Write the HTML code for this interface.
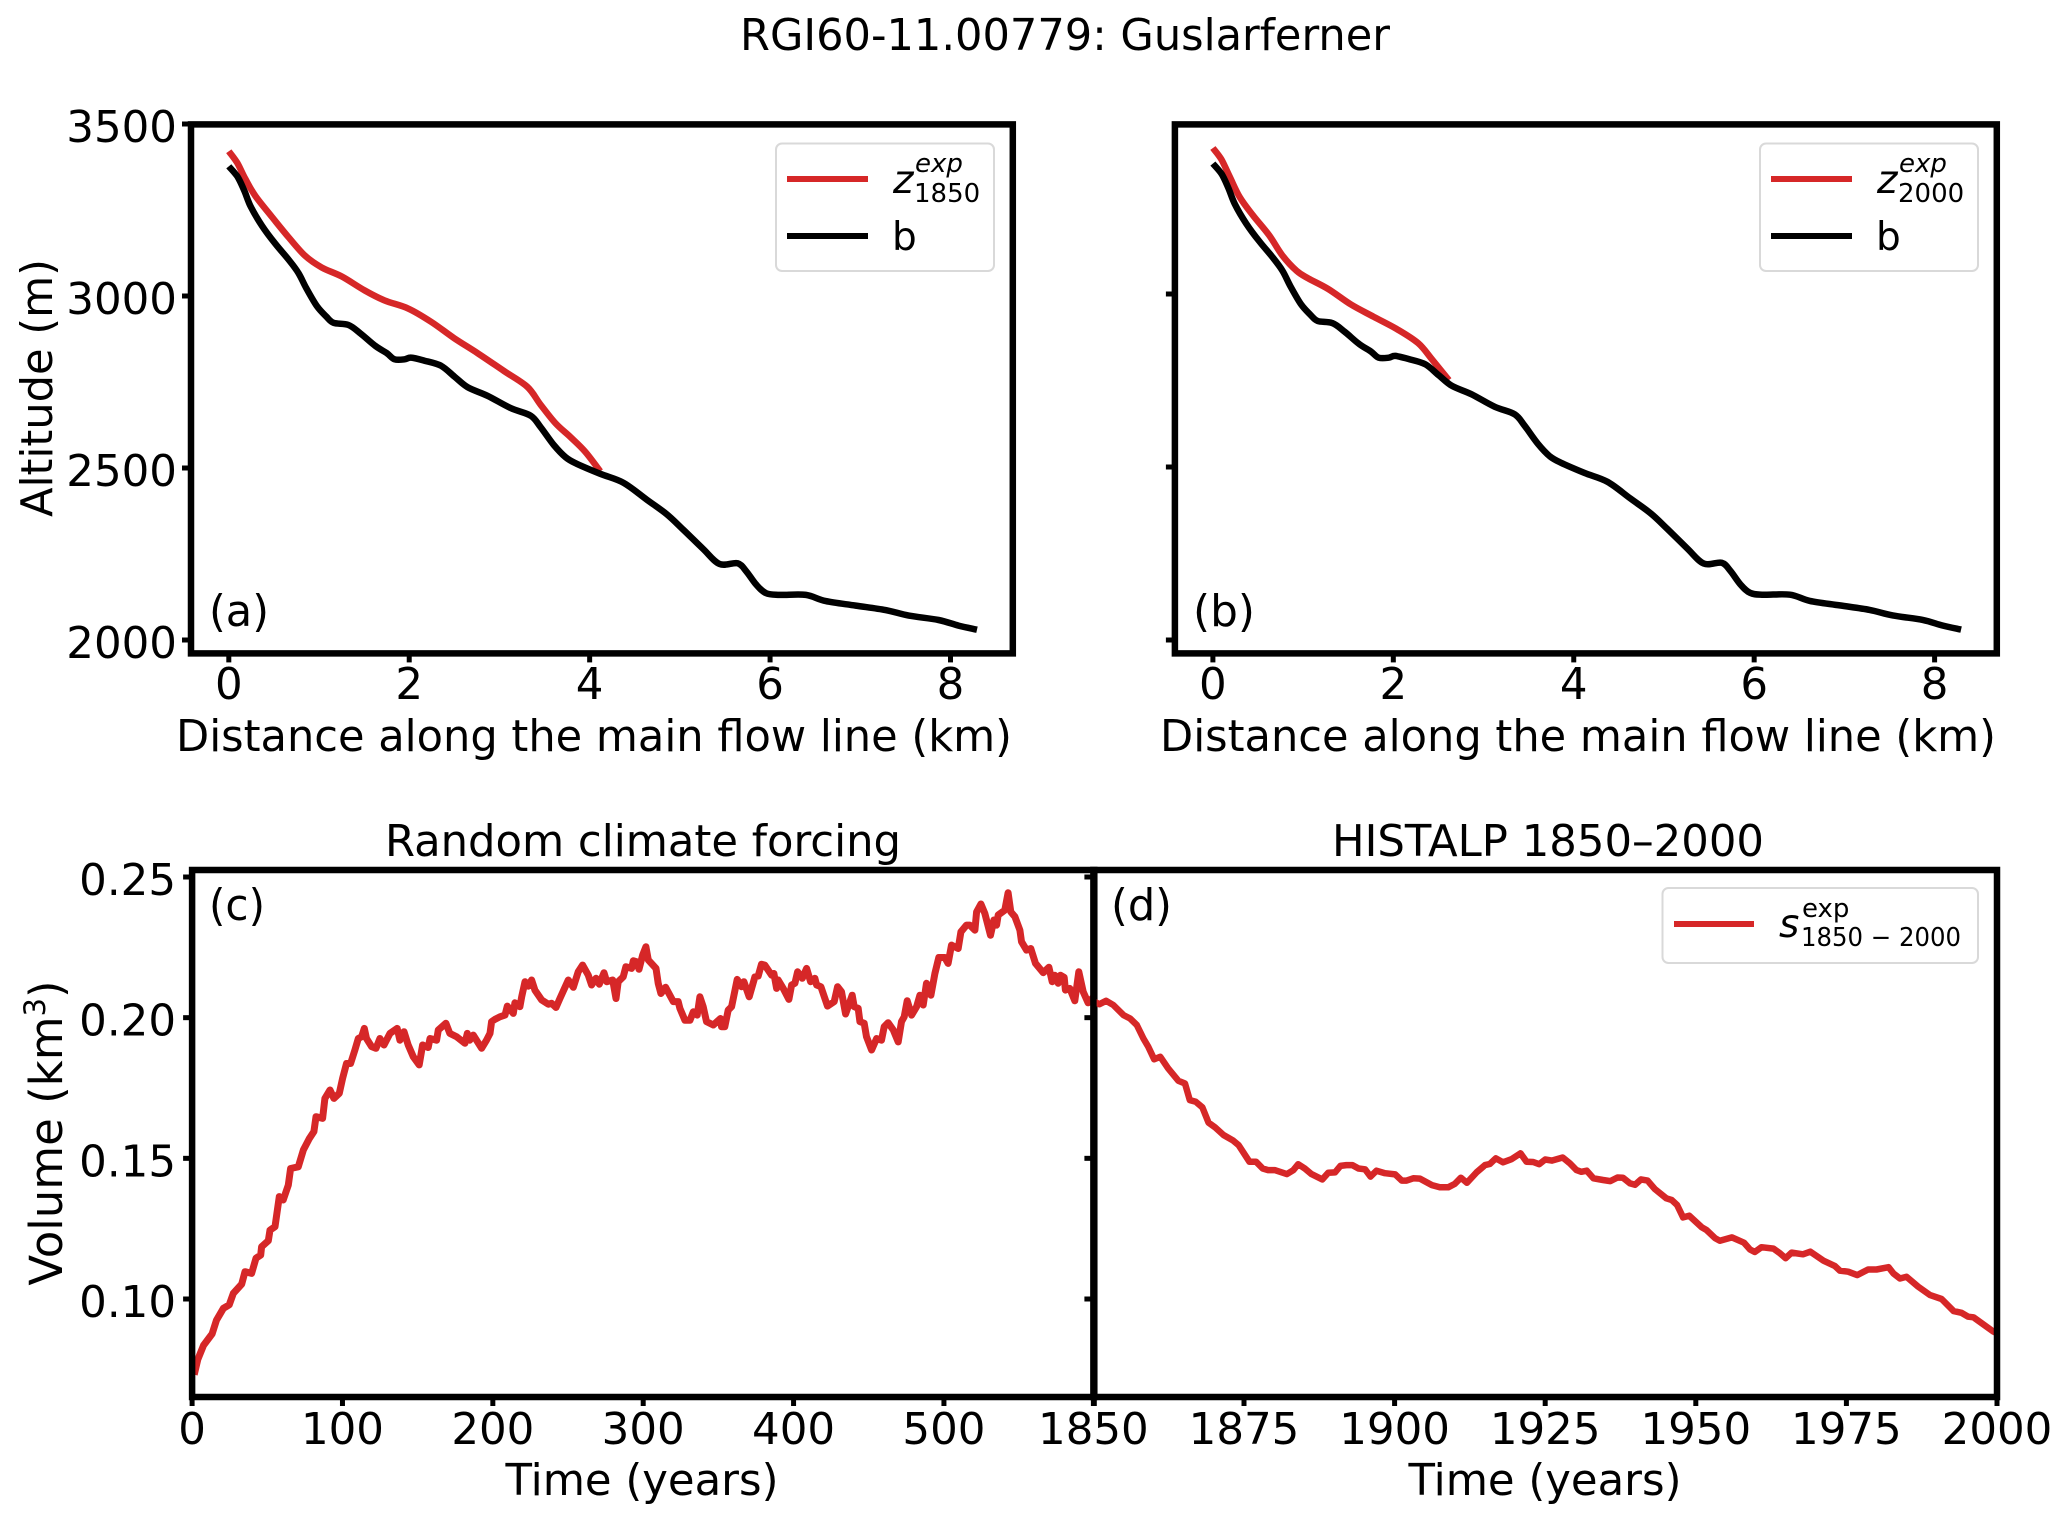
<!DOCTYPE html>
<html lang="en">
<head>
<meta charset="utf-8">
<title>RGI60-11.00779: Guslarferner</title>
<style>
html,body{margin:0;padding:0;background:#fff;}
svg{display:block;}
text{font-family:"DejaVu Sans","Liberation Sans",sans-serif;fill:#000;}
.lbl{font-size:44px;}
.tick{font-size:43.5px;}
.leg{font-size:39px;}
.sub{font-size:26px;}
</style>
</head>
<body>
<svg id="figure" xmlns="http://www.w3.org/2000/svg" width="2067" height="1522" viewBox="0 0 2067 1522">
<rect x="0" y="0" width="2067" height="1522" fill="#fff"/>
<text class="lbl" x="1065" y="50" text-anchor="middle" textLength="650" lengthAdjust="spacingAndGlyphs">RGI60-11.00779: Guslarferner</text>
<g id="layer-lines"></g>
<text class="lbl" transform="translate(52,388) rotate(-90)" text-anchor="middle" textLength="258" lengthAdjust="spacingAndGlyphs">Altitude (m)</text>
<text class="lbl" x="594" y="751" text-anchor="middle" textLength="836" lengthAdjust="spacingAndGlyphs">Distance along the main flow line (km)</text>
<text class="lbl" x="1578" y="751" text-anchor="middle" textLength="836" lengthAdjust="spacingAndGlyphs">Distance along the main flow line (km)</text>
<text class="lbl" x="209" y="626" textLength="60" lengthAdjust="spacingAndGlyphs">(a)</text>
<text class="lbl" x="1193" y="626" textLength="62" lengthAdjust="spacingAndGlyphs">(b)</text>
<text class="lbl" x="209" y="920" textLength="56" lengthAdjust="spacingAndGlyphs">(c)</text>
<text class="lbl" x="1111" y="920" textLength="61" lengthAdjust="spacingAndGlyphs">(d)</text>
<text class="lbl" x="643" y="856" text-anchor="middle" textLength="516" lengthAdjust="spacingAndGlyphs">Random climate forcing</text>
<text class="lbl" x="1548" y="856" text-anchor="middle" textLength="432" lengthAdjust="spacingAndGlyphs">HISTALP 1850–2000</text>
<text class="lbl" x="642" y="1495" text-anchor="middle" textLength="273" lengthAdjust="spacingAndGlyphs">Time (years)</text>
<text class="lbl" x="1545" y="1495" text-anchor="middle" textLength="273" lengthAdjust="spacingAndGlyphs">Time (years)</text>
<text font-size="45" transform="translate(62,1133) rotate(-90)" text-anchor="middle">Volume (km<tspan font-size="29" dy="-17">3</tspan><tspan dy="17">)</tspan></text>

<g>
<rect x="776" y="143.5" width="218" height="127.5" rx="6" fill="#fff" stroke="#d9d9d9" stroke-width="2"/>
<line x1="787" x2="868" y1="179" y2="179" stroke="#d62728" stroke-width="6"/>
<line x1="787" x2="868" y1="236" y2="236" stroke="#000" stroke-width="6"/>
<text class="leg" x="893" y="193" font-style="italic">z</text>
<text class="sub" x="915" y="172" font-style="italic">exp</text>
<text class="sub" x="914" y="202">1850</text>
<text class="leg" x="892" y="250">b</text>
</g>
<g>
<rect x="1760" y="143.5" width="218" height="127.5" rx="6" fill="#fff" stroke="#d9d9d9" stroke-width="2"/>
<line x1="1771" x2="1852" y1="179" y2="179" stroke="#d62728" stroke-width="6"/>
<line x1="1771" x2="1852" y1="236" y2="236" stroke="#000" stroke-width="6"/>
<text class="leg" x="1877" y="193" font-style="italic">z</text>
<text class="sub" x="1899" y="172" font-style="italic">exp</text>
<text class="sub" x="1898" y="202">2000</text>
<text class="leg" x="1876" y="250">b</text>
</g>
<g>
<rect x="1662.5" y="888" width="315.5" height="75" rx="6" fill="#fff" stroke="#d9d9d9" stroke-width="2"/>
<line x1="1674" x2="1754" y1="924" y2="924" stroke="#d62728" stroke-width="6"/>
<text class="leg" x="1779" y="937" font-style="italic">s</text>
<text class="sub" x="1802" y="917">exp</text>
<text class="sub" x="1801" y="946" textLength="160" lengthAdjust="spacingAndGlyphs">1850 − 2000</text>
</g>
</svg>
<script>
var bedKm = [0,.096,.169,.243,.368,.515,.662,.772,.86,.978,1.081,1.162,1.324,1.456,1.618,1.75,1.838,1.949,2.022,2.169,2.353,2.5,2.647,2.868,3.125,3.346,3.456,3.603,3.735,3.86,4.118,4.375,4.632,4.853,5.037,5.257,5.441,5.64,5.735,5.846,5.956,6.103,6.397,6.618,6.949,7.279,7.537,7.868,8.088,8.294];
var bedAlt = [3377,3347,3308,3260,3204,3152,3106,3067,3022,2970,2940,2922,2916,2892,2856,2834,2816,2816,2821,2812,2797,2766,2735,2710,2674,2652,2619,2567,2531,2512,2483,2457,2408,2366,2321,2265,2221,2223,2200,2161,2136,2131,2131,2113,2100,2087,2071,2058,2042,2030];
var z1850Km = [0,.096,.184,.294,.478,.662,.846,1.029,1.25,1.507,1.728,1.985,2.243,2.5,2.757,3.051,3.309,3.456,3.625,3.787,3.949,4.118];
var z1850Alt = [3421,3386,3340,3291,3230,3171,3117,3083,3057,3016,2987,2964,2925,2877,2834,2782,2736,2684,2629,2590,2548,2490];
var z2000Km = [0,.094,.188,.297,.442,.623,.768,.928,1.058,1.275,1.529,1.783,2.036,2.275,2.435,2.616];
var z2000Alt = [3422,3389,3338,3280,3228,3170,3112,3067,3045,3015,2970,2934,2899,2858,2809,2751];
var randomYears = [1.4,3.8,7.6,13.3,16.2,20.8,24.7,27.4,33,35.2,39.6,42.5,45.6,46.2,50.7,51.8,55.1,58,60.6,64,65.5,70.6,74,78,81,82.4,86.8,88.3,91.7,94.3,97.9,100.1,102.7,105.4,108.3,110.5,112.7,114.5,116,119.4,122.3,124.9,127.6,131.6,136.4,138.2,140.9,143.7,147.1,151,153.3,157,158.2,162.6,163.7,168.8,171.4,175.9,181.4,183,184.7,187,192.5,195.8,198.1,199.2,201.4,204.7,208.1,209.6,213.6,214.7,218,219.2,221.4,223.6,225.8,228,232.4,236.9,239.1,242,244.6,250.2,253.5,256.8,259.7,263.5,265.7,268.6,270.8,273.9,275.7,279.7,281.9,283.4,286.7,288.5,292.3,293.4,295.6,297.2,299.6,301.8,303.4,308.5,310,311.8,314.9,320,323.3,324.4,327.7,331.1,333.3,335.9,337.7,339.9,342.1,346.6,351.4,352.1,354.3,356.5,358.8,362.5,365.4,367,370.5,374.3,376.5,378.7,380.9,385.4,386.9,388.7,389.8,393.1,396.9,398.7,400.9,402.7,405.8,408.7,411.3,414.2,415.3,418.2,422.6,427,429.3,431.9,434.6,439,440.3,443,444.1,447,448.5,451.9,455.2,458.5,460.3,462.9,466.3,469.6,471.8,473.6,475.6,478.5,481.8,484,486.2,488.4,491.3,494,496.6,500.6,502.8,505,509.5,511.3,515,517.2,520.6,521.7,524.6,527.2,531,533.2,535,536.1,540.5,542.7,544.5,547.2,550.5,551.6,554.9,557.8,560.9,566,569.8,572,573.7,576,577.5,580,580.8,583.7,587,589.7,592.6,595.9,598.6,600];
var randomVolume = [.0731,.0785,.0835,.0876,.0925,.0967,.0979,.102,.1053,.1097,.1091,.1145,.1156,.1186,.1207,.1245,.1257,.1364,.1352,.1405,.1464,.147,.153,.1571,.1595,.1648,.1642,.1713,.1743,.1713,.1731,.1784,.1837,.1837,.1885,.1926,.1932,.1962,.1926,.1897,.1891,.1926,.1903,.1944,.1962,.192,.195,.1903,.1861,.1832,.1903,.1894,.1926,.192,.1956,.198,.1944,.1932,.1909,.1944,.192,.1938,.1891,.192,.1944,.1986,.1994,.2003,.2009,.2041,.2015,.2053,.2039,.2074,.2128,.2112,.2134,.2098,.2063,.2048,.2051,.2036,.2068,.2134,.2108,.2163,.2187,.2151,.2116,.214,.2119,.216,.2128,.2134,.2068,.2128,.2145,.2181,.2175,.2202,.2199,.2172,.2222,.2252,.2205,.2175,.2122,.2086,.2108,.2057,.2057,.2033,.1991,.1991,.2021,.2009,.2074,.2039,.1986,.1974,.1997,.1968,.1968,.2027,.2039,.2136,.211,.2128,.2074,.2145,.2148,.219,.2187,.2151,.2157,.2104,.2134,.2104,.2065,.2116,.2122,.2163,.214,.2175,.2128,.214,.2116,.211,.2041,.2057,.211,.2092,.2013,.208,.2039,.2033,.1986,.198,.1932,.1885,.1926,.192,.1968,.1982,.1956,.1914,.1986,.2003,.206,.2009,.2039,.208,.2045,.2122,.208,.2157,.2214,.2214,.2193,.2258,.2246,.2305,.2329,.2329,.2311,.2376,.2404,.2371,.2293,.2347,.2329,.2365,.2382,.2444,.2376,.2359,.2311,.227,.224,.2246,.2193,.216,.2179,.2128,.2151,.2122,.2151,.2143,.2098,.2104,.206,.2163,.2092,.2053,.2069,.2062];
var histYears = [1850,1851,1852.1,1853.3,1855,1856.1,1857.2,1858.3,1859.1,1860.1,1861.1,1862.4,1864.1,1865.2,1866,1867,1868.1,1869.1,1870.2,1871.6,1873.2,1874.1,1875.9,1877,1878.1,1879,1880.1,1882.1,1883.2,1884,1885.1,1886.2,1888,1889,1890.1,1891,1892,1893,1894,1895.1,1896,1897,1898.4,1900.1,1901.2,1902,1903.1,1904.2,1906.2,1907.5,1908.9,1910,1911,1912,1913.6,1915,1915.8,1916.8,1918,1919.4,1920.9,1921.9,1923,1924,1925,1926.1,1927.9,1929.1,1930.2,1931,1931.9,1933,1934.6,1935.8,1937,1937.9,1939.1,1939.9,1940.9,1942,1943.2,1945.1,1946,1946.9,1947.9,1948.9,1951,1951.8,1953.2,1954,1956,1958,1959,1959.8,1960.9,1962.9,1964,1964.9,1965.9,1967.8,1969,1971.2,1973.1,1973.9,1975.3,1976.8,1978.6,1980,1982,1982.8,1983.9,1985,1986.9,1988.9,1990.8,1992.8,1994.1,1995.2,1996.1,1999.4,2000];
var histVolume = [.2059,.2048,.206,.2045,.2009,.1997,.1974,.1926,.1897,.1852,.1861,.182,.1776,.1766,.1707,.1701,.1681,.1627,.161,.1583,.1563,.1547,.1488,.1488,.1464,.1458,.1458,.1444,.1458,.1479,.1464,.1444,.1425,.1449,.145,.1473,.1476,.1476,.1464,.1461,.1435,.1456,.1447,.1443,.1421,.1421,.1429,.1428,.1405,.1397,.1397,.1409,.1431,.1413,.145,.1476,.148,.15,.1486,.1497,.1518,.1488,.1487,.1479,.1496,.1492,.1503,.1482,.1458,.1452,.1456,.1429,.1423,.1419,.1432,.1431,.1411,.1406,.1425,.1421,.1391,.1358,.1352,.1334,.129,.1296,.1255,.1245,.1216,.1207,.1219,.12,.1176,.1167,.1184,.1179,.1162,.1145,.1165,.1159,.1168,.1136,.1117,.1101,.1097,.1085,.1105,.1105,.1113,.1091,.1073,.1079,.1044,.1014,.1,.0957,.0951,.0937,.0935,.0884,.0878];
var kmTicks = [0,2,4,6,8];
var altTicks = [2000,2500,3000,3500];
var volumeTicks = [0.10,0.15,0.20,0.25];
var volumeTickLabels = ['0.10','0.15','0.20','0.25'];
var randomTicks = [0,100,200,300,400,500];
var randomEdgeTick = [600];
var histTicks = [1850,1875,1900,1925,1950,1975,2000];

var NS = 'http://www.w3.org/2000/svg';
var layer = document.getElementById('layer-lines');
var RED = '#d62728';

function scale(d0, d1, r0, r1) {
  return function (v) { return r0 + (v - d0) * (r1 - r0) / (d1 - d0); };
}
function make(tag, parent, props) {
  var node = document.createElementNS(NS, tag);
  for (var k in props) { node.setAttribute(k, props[k]); }
  parent.appendChild(node);
  return node;
}
function drawLine(parent, name, xs, ys, fx, fy, color, width, smooth) {
  var pts = xs.map(function (x, i) { return [fx(x), fy(ys[i])]; });
  var d = 'M' + pts[0][0].toFixed(1) + ' ' + pts[0][1].toFixed(1);
  for (var i = 1; i < pts.length; i++) {
    if (smooth) {
      var p0 = pts[Math.max(i - 2, 0)], p1 = pts[i - 1], p2 = pts[i], p3 = pts[Math.min(i + 1, pts.length - 1)];
      d += 'C' + (p1[0] + (p2[0] - p0[0]) / 6).toFixed(1) + ' ' + (p1[1] + (p2[1] - p0[1]) / 6).toFixed(1) + ' ' +
           (p2[0] - (p3[0] - p1[0]) / 6).toFixed(1) + ' ' + (p2[1] - (p3[1] - p1[1]) / 6).toFixed(1) + ' ' +
           p2[0].toFixed(1) + ' ' + p2[1].toFixed(1);
    } else {
      d += 'L' + pts[i][0].toFixed(1) + ' ' + pts[i][1].toFixed(1);
    }
  }
  var path = make('path', parent, { d: d, fill: 'none', stroke: color, 'stroke-width': width, 'stroke-linejoin': 'round' });
  
  
}
function drawFrame(parent, name, x0, y0, x1, y1) {
  var r = make('rect', parent, { x: x0, y: y0, width: x1 - x0, height: y1 - y0, fill: 'none', stroke: '#000', 'stroke-width': 6.5 });
  
  
}
function xTick(parent, prefix, px, yBase, label, labelY) {
  var t = make('line', parent, { x1: px, x2: px, y1: yBase, y2: yBase + 9, stroke: '#000', 'stroke-width': 5 });
  
  
  if (label !== null) {
    var s = make('text', parent, { x: px, y: labelY, 'text-anchor': 'middle', 'class': 'tick' });
    
    
    s.textContent = label;
  }
}
function yTick(parent, prefix, xBase, py, label, labelX) {
  var t = make('line', parent, { x1: xBase - 9, x2: xBase, y1: py, y2: py, stroke: '#000', 'stroke-width': 5 });
  
  
  if (label !== null) {
    var s = make('text', parent, { x: labelX, y: py + 18, 'text-anchor': 'end', 'class': 'tick' });
    
    
    s.textContent = label;
  }
}
function group(name) {
  var g = make('g', layer, {});
  
  
  return g;
}

/* Panel (a) */
var ga = group('panel-a');
var ax = scale(0, 8, 228.8, 950.5), ay = scale(2000, 3500, 640, 124);
drawLine(ga, 'line-z1850', z1850Km, z1850Alt, ax, ay, RED, 6.5, true);
drawLine(ga, 'line-bed-a', bedKm, bedAlt, ax, ay, '#000', 6.5, true);
kmTicks.forEach(function (v) { xTick(ga, 'panel-a', ax(v), 653.4, String(v), 699); });
altTicks.forEach(function (v) { yTick(ga, 'panel-a', 191, ay(v), String(v), 177); });
drawFrame(ga, 'panel-a-frame', 191, 124.4, 1012.8, 653.4);

/* Panel (b) */
var gb = group('panel-b');
var bx = scale(0, 8, 1212.9, 1934.6), by = scale(2000, 3000, 640, 294);
drawLine(gb, 'line-z2000', z2000Km, z2000Alt, bx, by, RED, 6.5, true);
drawLine(gb, 'line-bed-b', bedKm, bedAlt, bx, by, '#000', 6.5, true);
kmTicks.forEach(function (v) { xTick(gb, 'panel-b', bx(v), 653.4, String(v), 699); });
altTicks.slice(0, 3).forEach(function (v) { yTick(gb, 'panel-b', 1174.9, by(v), null, 0); });
drawFrame(gb, 'panel-b-frame', 1174.9, 124.4, 1996.8, 653.4);

/* Panel (c) */
var gc = group('panel-c');
var cx = scale(0, 600, 192.1, 1094.3), cy = scale(0.10, 0.25, 1299, 877);
drawLine(gc, 'line-random-volume', randomYears, randomVolume, cx, cy, RED, 7, false);
randomTicks.forEach(function (v) { xTick(gc, 'panel-c', cx(v), 1397, String(v), 1444); });
randomEdgeTick.forEach(function (v) { xTick(gc, 'panel-c', cx(v), 1397, null, 0); });
volumeTicks.forEach(function (v, i) { yTick(gc, 'panel-c', 192.1, cy(v), volumeTickLabels[i], 176); });
drawFrame(gc, 'panel-c-frame', 192.1, 870, 1094.3, 1397);

/* Panel (d) */
var gd = group('panel-d');
var dx = scale(1850, 2000, 1093.4, 1997), dy = scale(0.10, 0.25, 1299, 877);
drawLine(gd, 'line-histalp-volume', histYears, histVolume, dx, dy, RED, 6.5, false);
histTicks.forEach(function (v) { xTick(gd, 'panel-d', dx(v), 1397, String(v), 1444); });
volumeTicks.forEach(function (v) { yTick(gd, 'panel-d', 1093.4, dy(v), null, 0); });
drawFrame(gd, 'panel-d-frame', 1093.4, 870, 1997, 1397);
</script>
</body>
</html>
